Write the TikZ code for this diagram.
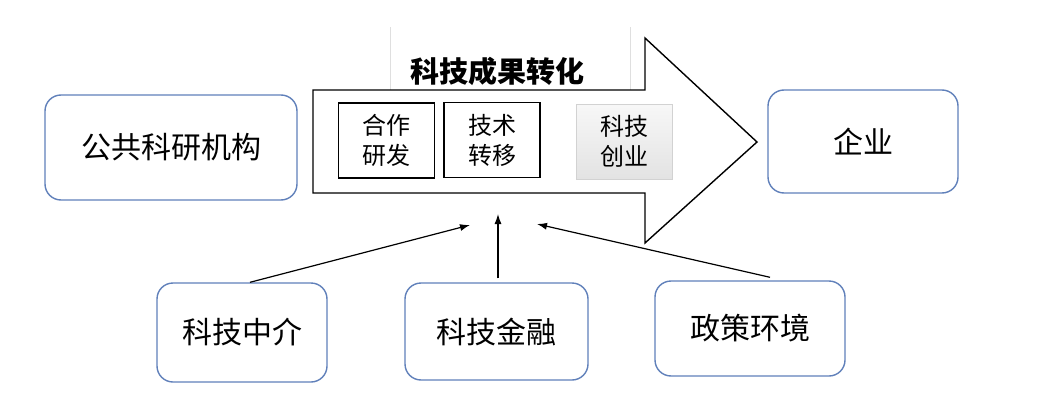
\documentclass[tikz,border=0pt]{standalone}
\usepackage{fontspec}
\newfontfamily\cjk{Noto Sans CJK SC}
\usepackage{tikz}
\usetikzlibrary{arrows.meta, calc, positioning}
\definecolor{boxblue}{RGB}{96,128,186}

\tikzset{
    roundbox/.style={draw=boxblue, line width=1.4pt, rounded corners=16pt, fill=white,
        font=\cjk\fontsize{30}{34}\selectfont},
    stepbox/.style={draw=black, line width=1.3pt, minimum width=96pt, minimum height=75pt,
        align=center, font=\cjk\fontsize{24}{30}\selectfont},
}

\begin{document}
\begin{tikzpicture}[x=1pt, y=-1pt, every path/.style={line width=1.2pt}]
            \useasboundingbox (0,0) rectangle (1047,415);
            % faint frame behind the title
            \draw[gray!25, line width=0.6pt] (390,27) -- (390,90);
            \draw[gray!25, line width=0.6pt] (630,27) -- (630,90);
            % big arrow
            \draw[line width=1.4pt, fill=white] (313,90) -- (645,90) -- (645,38) -- (757,142)
                -- (645,243) -- (645,193) -- (313,193) -- cycle;
            \node (title) at (497,71) {\cjk\bfseries\fontsize{29}{32}\selectfont 科技成果转化};
            \node[stepbox] (hezuo) at (386.5,140.5) {合作\\研发};
            \node[stepbox] (zhuanyi) at (492,140) {技术\\转移};
            \node[stepbox, draw=gray!35, line width=0.6pt, top color=gray!6, bottom color=gray!22] (chuangye) at (624,141.5) {科技\\创业};
            % actors
            \node[roundbox, minimum width=252pt, minimum height=105pt] (jigou) at (171,147.5) {公共科研机构};
            \node[roundbox, minimum width=190pt, minimum height=103pt] (qiye) at (863,141.5) {企业};
            \node[roundbox, minimum width=170pt, minimum height=99pt] (zhongjie) at (242,332.5) {科技中介};
            \node[roundbox, minimum width=183pt, minimum height=97pt] (jinrong) at (496.5,331.5) {科技金融};
            \node[roundbox, minimum width=190pt, minimum height=95pt] (zhengce) at (750,328.5) {政策环境};
            % support arrows
            \coordinate (inL) at (470,225);
            \coordinate (inM) at (498,214);
            \coordinate (inR) at (537,224);
            \begin{scope}[every path/.append style={-{Latex[length=10pt,width=7pt]}}]
                \draw (zhongjie.north) ++(8,0) -- (inL);
                \draw (jinrong.north) ++(1.5,-4) -- (inM);
                \draw (zhengce.north) ++(20,-3) -- (inR);
            \end{scope}
        \end{tikzpicture}
\end{document}
